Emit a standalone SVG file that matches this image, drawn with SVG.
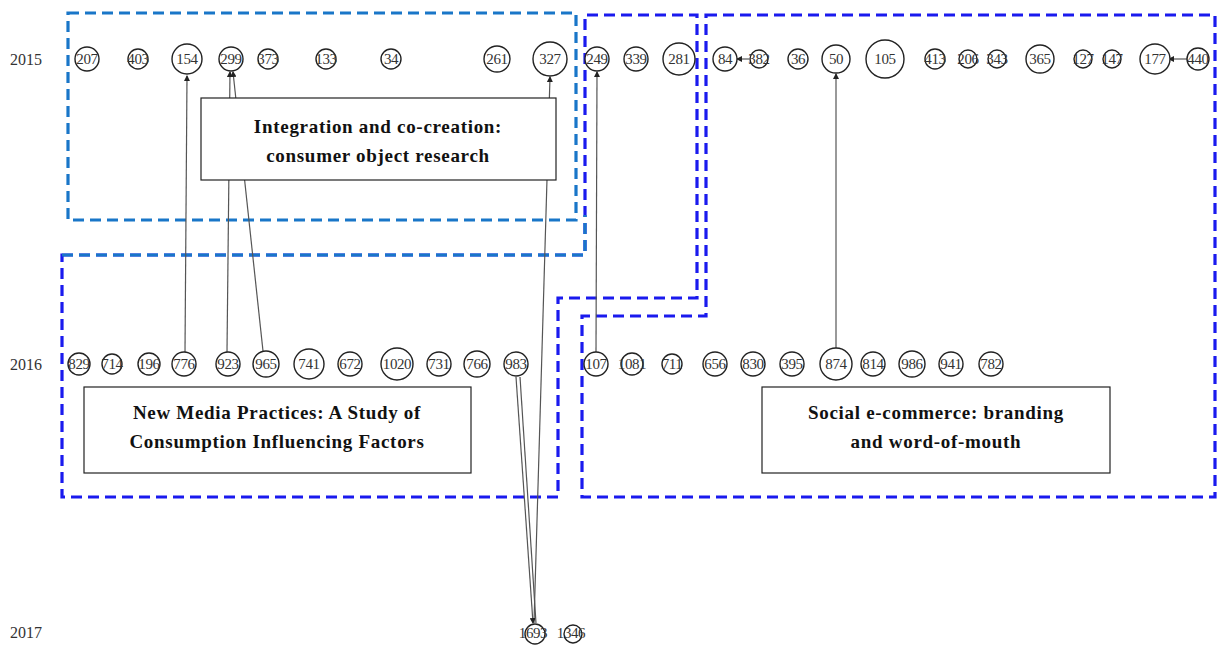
<svg xmlns="http://www.w3.org/2000/svg" width="1219" height="648" viewBox="0 0 1219 648">
<defs>
<style>
.yr{font-family:"Liberation Serif",serif;font-size:16px;fill:#333}
.n circle{fill:#fff;stroke:#222;stroke-width:1.4}
.n text{font-family:"Liberation Serif",serif;font-size:15px;fill:#333;text-anchor:middle;dominant-baseline:central;letter-spacing:-0.4px}
.lb rect{fill:#fff;stroke:#222;stroke-width:1.2}
.lb text{font-family:"Liberation Serif",serif;font-weight:bold;font-size:19px;letter-spacing:0.7px;fill:#111;text-anchor:middle}
.cl{fill:none;stroke-width:3.2;stroke-dasharray:11 6}
.lt{stroke:#1976c8}
.dk{stroke:#1a1aee}
.cn{fill:none;stroke:#555;stroke-width:1.2}
</style>
<marker id="ah" viewBox="0 0 6 6" refX="5" refY="3" markerWidth="5" markerHeight="5" orient="auto"><path d="M0,0 L6,3 L0,6 z" fill="#222"/></marker>
</defs>
<rect width="1219" height="648" fill="#fff"/>
<g id="clusters">
<rect class="cl lt" x="68" y="13" width="508" height="207"/>
<polygon class="cl dk" points="62,255 585,255 585,15 697,15 697,298 558,298 558,497 62,497"/>
<polyline class="cl lt" points="62,255 585,255 585,215"/>
<polygon class="cl dk" points="706,15 1215,15 1215,497 582,497 582,316 706,316"/>
</g>
<g id="years">
<text class="yr" x="10" y="65">2015</text>
<text class="yr" x="10" y="370">2016</text>
<text class="yr" x="10" y="638">2017</text>
</g>
<g id="connectors">
<line class="cn" x1="185" y1="352" x2="187" y2="76" marker-end="url(#ah)"/>
<line class="cn" x1="227" y1="352" x2="230" y2="72" marker-end="url(#ah)"/>
<line class="cn" x1="263" y1="351" x2="233" y2="72" marker-end="url(#ah)"/>
<line class="cn" x1="534" y1="623" x2="550" y2="77" marker-end="url(#ah)"/>
<line class="cn" x1="516" y1="377" x2="533" y2="623" marker-end="url(#ah)"/>
<line class="cn" x1="520" y1="377" x2="536" y2="623"/>
<line class="cn" x1="596" y1="352" x2="597" y2="72" marker-end="url(#ah)"/>
<line class="cn" x1="836" y1="348" x2="836" y2="74" marker-end="url(#ah)"/>
<line class="cn" x1="749" y1="59" x2="737" y2="59" marker-end="url(#ah)"/>
<line class="cn" x1="1187" y1="59" x2="1169" y2="59" marker-end="url(#ah)"/>
</g>
<g id="n207" class="n"><circle cx="87" cy="59" r="12"/><text x="87" y="59">207</text></g>
<g id="n403" class="n"><circle cx="138" cy="59" r="10"/><text x="138" y="59">403</text></g>
<g id="n154" class="n"><circle cx="187" cy="59" r="15"/><text x="187" y="59">154</text></g>
<g id="n299" class="n"><circle cx="231" cy="59" r="12"/><text x="231" y="59">299</text></g>
<g id="n373" class="n"><circle cx="268" cy="59" r="10"/><text x="268" y="59">373</text></g>
<g id="n133" class="n"><circle cx="326" cy="59" r="10"/><text x="326" y="59">133</text></g>
<g id="n34" class="n"><circle cx="391" cy="59" r="10"/><text x="391" y="59">34</text></g>
<g id="n261" class="n"><circle cx="497" cy="59" r="13"/><text x="497" y="59">261</text></g>
<g id="n327" class="n"><circle cx="550" cy="59" r="17"/><text x="550" y="59">327</text></g>
<g id="n249" class="n"><circle cx="597" cy="59" r="12"/><text x="597" y="59">249</text></g>
<g id="n339" class="n"><circle cx="636" cy="59" r="12"/><text x="636" y="59">339</text></g>
<g id="n281" class="n"><circle cx="679" cy="59" r="16"/><text x="679" y="59">281</text></g>
<g id="n84" class="n"><circle cx="725" cy="59" r="12"/><text x="725" y="59">84</text></g>
<g id="n382" class="n"><circle cx="759" cy="59" r="9"/><text x="759" y="59">382</text></g>
<g id="n36" class="n"><circle cx="798" cy="59" r="10"/><text x="798" y="59">36</text></g>
<g id="n50" class="n"><circle cx="836" cy="59" r="14"/><text x="836" y="59">50</text></g>
<g id="n105" class="n"><circle cx="885" cy="59" r="19"/><text x="885" y="59">105</text></g>
<g id="n413" class="n"><circle cx="935" cy="59" r="10"/><text x="935" y="59">413</text></g>
<g id="n206" class="n"><circle cx="968" cy="59" r="9"/><text x="968" y="59">206</text></g>
<g id="n343" class="n"><circle cx="997" cy="59" r="9"/><text x="997" y="59">343</text></g>
<g id="n365" class="n"><circle cx="1040" cy="59" r="14"/><text x="1040" y="59">365</text></g>
<g id="n127" class="n"><circle cx="1083" cy="59" r="9"/><text x="1083" y="59">127</text></g>
<g id="n147" class="n"><circle cx="1112" cy="59" r="9"/><text x="1112" y="59">147</text></g>
<g id="n177" class="n"><circle cx="1155" cy="59" r="15"/><text x="1155" y="59">177</text></g>
<g id="n440" class="n"><circle cx="1198" cy="59" r="11"/><text x="1198" y="59">440</text></g>
<g id="n829" class="n"><circle cx="79" cy="364" r="11"/><text x="79" y="364">829</text></g>
<g id="n714" class="n"><circle cx="112" cy="364" r="10"/><text x="112" y="364">714</text></g>
<g id="n196" class="n"><circle cx="149" cy="364" r="11"/><text x="149" y="364">196</text></g>
<g id="n776" class="n"><circle cx="184" cy="364" r="12"/><text x="184" y="364">776</text></g>
<g id="n923" class="n"><circle cx="228" cy="364" r="12"/><text x="228" y="364">923</text></g>
<g id="n965" class="n"><circle cx="266" cy="364" r="13"/><text x="266" y="364">965</text></g>
<g id="n741" class="n"><circle cx="309" cy="364" r="15"/><text x="309" y="364">741</text></g>
<g id="n672" class="n"><circle cx="350" cy="364" r="12"/><text x="350" y="364">672</text></g>
<g id="n1020" class="n"><circle cx="397" cy="364" r="16"/><text x="397" y="364">1020</text></g>
<g id="n731" class="n"><circle cx="439" cy="364" r="12"/><text x="439" y="364">731</text></g>
<g id="n766" class="n"><circle cx="477" cy="364" r="13"/><text x="477" y="364">766</text></g>
<g id="n983" class="n"><circle cx="516" cy="364" r="12"/><text x="516" y="364">983</text></g>
<g id="n107" class="n"><circle cx="596" cy="364" r="12"/><text x="596" y="364">107</text></g>
<g id="n1081" class="n"><circle cx="632" cy="364" r="11"/><text x="632" y="364">1081</text></g>
<g id="n711" class="n"><circle cx="672" cy="364" r="10"/><text x="672" y="364">711</text></g>
<g id="n656" class="n"><circle cx="715" cy="364" r="12"/><text x="715" y="364">656</text></g>
<g id="n830" class="n"><circle cx="753" cy="364" r="12"/><text x="753" y="364">830</text></g>
<g id="n395" class="n"><circle cx="792" cy="364" r="12"/><text x="792" y="364">395</text></g>
<g id="n874" class="n"><circle cx="836" cy="364" r="16"/><text x="836" y="364">874</text></g>
<g id="n814" class="n"><circle cx="873" cy="364" r="12"/><text x="873" y="364">814</text></g>
<g id="n986" class="n"><circle cx="912" cy="364" r="13"/><text x="912" y="364">986</text></g>
<g id="n941" class="n"><circle cx="951" cy="364" r="12"/><text x="951" y="364">941</text></g>
<g id="n782" class="n"><circle cx="991" cy="364" r="12"/><text x="991" y="364">782</text></g>
<g id="n1693" class="n"><circle cx="535" cy="634" r="10"/><text x="533" y="633">1693</text></g>
<g id="n1346" class="n"><circle cx="573" cy="634" r="9"/><text x="571" y="633">1346</text></g>
<g id="lab1" class="lb"><rect x="201" y="98" width="355" height="82"/><text x="378" y="133">Integration and co-creation:</text><text x="378" y="162">consumer object research</text></g>
<g id="lab2" class="lb"><rect x="84" y="387" width="387" height="86"/><text x="277" y="419">New Media Practices: A Study of</text><text x="277" y="448">Consumption Influencing Factors</text></g>
<g id="lab3" class="lb"><rect x="762" y="387" width="348" height="86"/><text x="936" y="419">Social e-commerce: branding</text><text x="936" y="448">and word-of-mouth</text></g>
</svg>
